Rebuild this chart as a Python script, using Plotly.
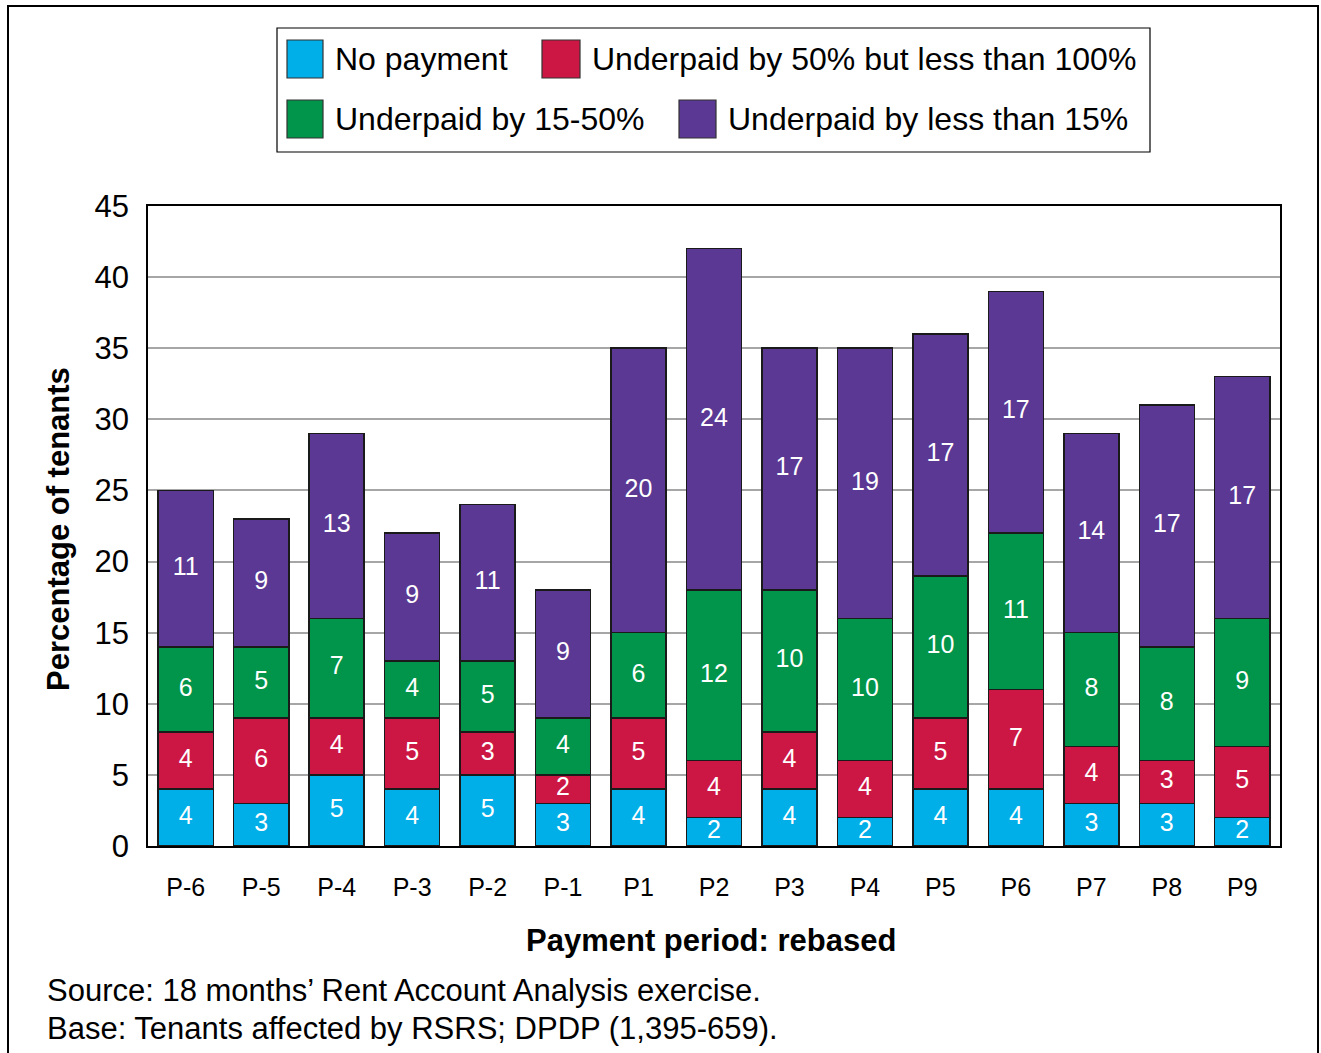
import plotly.graph_objects as go

# ---------------- data ----------------
categories = ["P-6", "P-5", "P-4", "P-3", "P-2", "P-1", "P1", "P2", "P3",
              "P4", "P5", "P6", "P7", "P8", "P9"]
series_names = ["No payment",
                "Underpaid by 50% but less than 100%",
                "Underpaid by 15-50%",
                "Underpaid by less than 15%"]
no_payment = [4, 3, 5, 4, 5, 3, 4, 2, 4, 2, 4, 4, 3, 3, 2]
underpaid_50_100 = [4, 6, 4, 5, 3, 2, 5, 4, 4, 4, 5, 7, 4, 3, 5]
underpaid_15_50 = [6, 5, 7, 4, 5, 4, 6, 12, 10, 10, 10, 11, 8, 8, 9]
underpaid_lt_15 = [11, 9, 13, 9, 11, 9, 20, 24, 17, 19, 17, 17, 14, 17, 17]
y_ticks = [0, 5, 10, 15, 20, 25, 30, 35, 40, 45]

x_title = "Payment period: rebased"
y_title = "Percentage of tenants"
source_lines = ["Source: 18 months\u2019 Rent Account Analysis exercise.",
                "Base: Tenants affected by RSRS; DPDP (1,395-659)."]

# ---------------- style ----------------
colors = ["#00AEE8", "#CC1745", "#00954A", "#5A3893"]
FONT = "Liberation Sans, Arial, sans-serif"
W, H = 1321, 1053
L, R, T, B = 148, 1280, 206, 846   # plot area in pixels


def px(xp):
    return (xp - L) / (R - L)


def py(yp):
    return (B - yp) / (B - T)


series = [no_payment, underpaid_50_100, underpaid_15_50, underpaid_lt_15]

fig = go.Figure()
bases = [0] * len(categories)
for name, vals, col in zip(series_names, series, colors):
    fig.add_trace(go.Bar(
        x=categories, y=vals, name=name,
        marker=dict(color=col, line=dict(color="#1a1a1a", width=1.5)),
        showlegend=False, hoverinfo="x+y+name"))
    mids = [b + v / 2 for b, v in zip(bases, vals)]
    fig.add_trace(go.Scatter(
        x=categories, y=mids, mode="text", text=[str(v) for v in vals],
        textposition="middle center",
        textfont=dict(family=FONT, size=25, color="white"),
        showlegend=False, hoverinfo="skip"))
    bases = [b + v for b, v in zip(bases, vals)]

fig.update_layout(
    width=W, height=H,
    margin=dict(l=L, r=W - R, t=T, b=H - B, pad=0),
    barmode="stack", bargap=0.27,
    plot_bgcolor="white", paper_bgcolor="white",
    font=dict(family=FONT, color="black"),
    showlegend=False,
)
fig.update_xaxes(
    type="category", range=[-0.5, len(categories) - 0.5],
    showline=True, linecolor="black", linewidth=1.5, mirror=True,
    ticks="", tickfont=dict(family=FONT, size=25, color="black"),
    ticklabelstandoff=18, showgrid=False, fixedrange=True)
fig.update_yaxes(
    range=[0, 45], tickvals=y_ticks, ticktext=[str(v) for v in y_ticks],
    showline=True, linecolor="black", linewidth=1.5, mirror=True,
    showgrid=True, gridcolor="#A6A6A6", gridwidth=1.5, zeroline=False,
    ticks="", tickfont=dict(family=FONT, size=31, color="black"),
    ticklabelstandoff=11, fixedrange=True)

shapes = []
annotations = []

# outer frame
shapes.append(dict(type="rect", xref="paper", yref="paper",
                   x0=px(8), x1=px(1318), y0=py(1070), y1=py(6),
                   line=dict(color="black", width=2), layer="above"))

# legend box
shapes.append(dict(type="rect", xref="paper", yref="paper",
                   x0=px(277), x1=px(1150), y0=py(152), y1=py(28),
                   line=dict(color="black", width=1.2), fillcolor="white",
                   layer="above"))
legend_pos = [  # (square x0, square x1, row center y, text x)
    (287, 323, 59, 333),
    (542, 580, 59, 590),
    (287, 323, 119, 333),
    (679, 716, 119, 726),
]
for (sx0, sx1, cy, tx), name, col in zip(legend_pos, series_names, colors):
    shapes.append(dict(type="rect", xref="paper", yref="paper",
                       x0=px(sx0), x1=px(sx1), y0=py(cy + 19), y1=py(cy - 19),
                       line=dict(color="#333333", width=1.2), fillcolor=col,
                       layer="above"))
    annotations.append(dict(xref="paper", yref="paper", x=px(tx), y=py(cy),
                            xanchor="left", yanchor="middle", showarrow=False,
                            text=name,
                            font=dict(family=FONT, size=32, color="black")))

# axis titles
annotations.append(dict(xref="paper", yref="paper", x=px(711), y=py(940),
                        xanchor="center", yanchor="middle", showarrow=False,
                        text="<b>" + x_title + "</b>",
                        font=dict(family=FONT, size=31, color="black")))
annotations.append(dict(xref="paper", yref="paper", x=px(58), y=py(529),
                        xanchor="center", yanchor="middle", showarrow=False,
                        textangle=-90, text="<b>" + y_title + "</b>",
                        font=dict(family=FONT, size=31, color="black")))
# source
for i, line in enumerate(source_lines):
    annotations.append(dict(xref="paper", yref="paper", x=px(45),
                            y=py(990 + 38 * i),
                            xanchor="left", yanchor="middle", showarrow=False,
                            text=line,
                            font=dict(family=FONT, size=31, color="black")))

fig.update_layout(shapes=shapes, annotations=annotations)

fig.write_html("out.html",
               config={"displayModeBar": False},
               post_script="document.body.style.margin='0';"
                           "document.body.style.overflow='hidden';")
